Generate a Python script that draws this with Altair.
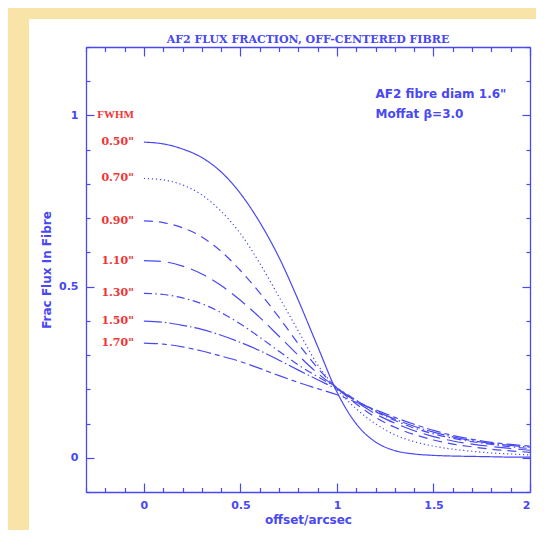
import altair as alt
import pandas as pd

BLUE = "#4848f4"
RED = "#f03434"
BEIGE = "#f8e4a6"

offsets = [0.0, 0.1, 0.2, 0.3, 0.4, 0.5, 0.6, 0.7, 0.8, 0.9, 1.0,
           1.1, 1.2, 1.3, 1.4, 1.5, 1.6, 1.7, 1.8, 1.9, 2.0]
fwhm_names = ['0.50"', '0.70"', '0.90"', '1.10"', '1.30"', '1.50"', '1.70"']

frac_050 = [0.922, 0.917, 0.902, 0.877, 0.835, 0.772, 0.688, 0.585, 0.460, 0.325, 0.192,
            0.099, 0.046, 0.021, 0.011, 0.007, 0.005, 0.004, 0.003, 0.002, 0.002]
frac_070 = [0.816, 0.812, 0.797, 0.768, 0.720, 0.655, 0.568, 0.470, 0.370, 0.272, 0.200,
            0.143, 0.099, 0.067, 0.047, 0.034, 0.025, 0.019, 0.014, 0.011, 0.008]
frac_090 = [0.692, 0.687, 0.672, 0.645, 0.603, 0.547, 0.482, 0.410, 0.333, 0.262, 0.204,
            0.157, 0.118, 0.089, 0.068, 0.052, 0.040, 0.032, 0.025, 0.020, 0.016]
frac_110 = [0.576, 0.573, 0.560, 0.537, 0.503, 0.460, 0.410, 0.355, 0.299, 0.247, 0.204,
            0.164, 0.128, 0.101, 0.079, 0.062, 0.049, 0.040, 0.033, 0.027, 0.022]
frac_130 = [0.480, 0.477, 0.467, 0.450, 0.424, 0.391, 0.352, 0.311, 0.271, 0.237, 0.204,
            0.168, 0.135, 0.109, 0.087, 0.070, 0.057, 0.047, 0.039, 0.032, 0.027]
frac_150 = [0.399, 0.396, 0.387, 0.375, 0.358, 0.337, 0.313, 0.285, 0.256, 0.228, 0.200,
            0.167, 0.137, 0.113, 0.092, 0.075, 0.061, 0.050, 0.042, 0.036, 0.031]
frac_170 = [0.335, 0.332, 0.324, 0.312, 0.297, 0.281, 0.261, 0.240, 0.220, 0.202, 0.184,
            0.162, 0.140, 0.118, 0.098, 0.080, 0.065, 0.054, 0.045, 0.039, 0.034]

all_series = [frac_050, frac_070, frac_090, frac_110, frac_130, frac_150, frac_170]
dash_styles = [[1, 0], [1.2, 2.8], [9, 6], [17, 7], [8, 3.5, 1.5, 3.5],
               [18, 3, 1.5, 3], [14, 4, 5, 4]]

x_ticks = [-0.3, -0.2, -0.1, 0.0, 0.1, 0.2, 0.3, 0.4, 0.5, 0.6, 0.7, 0.8, 0.9,
           1.0, 1.1, 1.2, 1.3, 1.4, 1.5, 1.6, 1.7, 1.8, 1.9, 2.0]
y_ticks = [-0.1, 0.0, 0.1, 0.2, 0.3, 0.4, 0.5, 0.6, 0.7, 0.8, 0.9, 1.0, 1.1, 1.2]
x_labels = [0, 0.5, 1, 1.5, 2]
y_labels = [0, 0.5, 1]
title_text = "AF2 FLUX FRACTION, OFF-CENTERED FIBRE"

rows = []
for name, series in zip(fwhm_names, all_series):
    for xv, yv in zip(offsets, series):
        rows.append({"offset": xv, "frac": yv, "fwhm": name})
df = pd.DataFrame(rows)
start = pd.DataFrame({"offset": [offsets[0]] * len(fwhm_names),
                      "frac": [s[0] for s in all_series],
                      "fwhm": fwhm_names})

W, H = 444, 445
xscale = alt.Scale(domain=[-0.3, 2.0], nice=False, zero=False)
yscale = alt.Scale(domain=[-0.1, 1.2], nice=False, zero=False)
SANS = "DejaVu Sans"
SERIF = "DejaVu Serif"
MAJOR_TEST = "abs(datum.value * 2 - round(datum.value * 2)) < 0.01"


def tick_axis(orient, offset, values, major, minor):
    return alt.Axis(orient=orient, offset=offset, values=values, labels=False,
                    title=None, grid=False, domain=True, domainColor=BLUE,
                    domainWidth=1.3, ticks=True, tickColor=BLUE, tickWidth=1.2,
                    tickSize={"condition": {"test": MAJOR_TEST, "value": major},
                              "value": minor},
                    zindex=2)


white = alt.Chart(alt.Data(values=[{"a": 1}])).mark_rect(color="white").encode(
    x=alt.value(-57), x2=alt.value(450), y=alt.value(-28), y2=alt.value(483)
)

ghost1 = alt.Chart(start).mark_point(opacity=0).encode(
    x=alt.X("offset:Q", scale=xscale, axis=tick_axis("top", -H, x_ticks, 9, 4.5)),
    y=alt.Y("frac:Q", scale=yscale, axis=tick_axis("right", -W, y_ticks, 8, 4)),
)
ghost2 = alt.Chart(start).mark_point(opacity=0).encode(
    x=alt.X("offset:Q", scale=xscale, axis=tick_axis("bottom", -H, x_ticks, 9, 4.5)),
    y=alt.Y("frac:Q", scale=yscale, axis=tick_axis("left", -W, y_ticks, 8, 4)),
)

curves = alt.Chart(df).mark_line(interpolate="monotone", strokeWidth=1.2, color=BLUE).encode(
    x=alt.X("offset:Q", scale=xscale,
            axis=alt.Axis(orient="bottom", values=x_labels, format="~g", domain=False,
                          ticks=False, tickSize=0, grid=False, labelPadding=7,
                          labelFont=SANS, labelFontWeight="bold", labelFontSize=11,
                          labelColor=BLUE, title="offset/arcsec", titleFont=SANS,
                          titleFontWeight="bold", titleFontSize=12, titleColor=BLUE,
                          titlePadding=4, zindex=2)),
    y=alt.Y("frac:Q", scale=yscale,
            axis=alt.Axis(orient="left", values=y_labels, format="~g", domain=False,
                          ticks=False, tickSize=0, grid=False, labelPadding=8,
                          labelFont=SANS, labelFontWeight="bold", labelFontSize=11,
                          labelColor=BLUE, title="Frac Flux In Fibre", titleFont=SANS,
                          titleFontWeight="bold", titleFontSize=12, titleColor=BLUE,
                          titlePadding=5, zindex=2)),
    detail="fwhm:N",
    strokeDash=alt.StrokeDash("fwhm:N", scale=alt.Scale(domain=fwhm_names, range=dash_styles),
                              legend=None),
)

labels = alt.Chart(start).mark_text(align="right", baseline="middle", dx=-10, font=SERIF,
                                    fontWeight="bold", fontSize=11, color=RED).encode(
    x=alt.X("offset:Q", scale=xscale, axis=None),
    y=alt.Y("frac:Q", scale=yscale, axis=None),
    text="fwhm:N",
)

header = alt.Chart(alt.Data(values=[{"t": "FWHM"}])).mark_text(
    align="right", baseline="middle", dx=-10, font="Liberation Serif", fontWeight="bold",
    fontSize=11, color=RED).encode(
    x=alt.XDatum(0, scale=xscale, axis=None),
    y=alt.YDatum(1, scale=yscale, axis=None),
    text="t:N",
)

notes = alt.Chart(alt.Data(values=[{"t": 'AF2 fibre diam 1.6"', "k": 1.063},
                                   {"t": "Moffat \u03b2=3.0", "k": 1.005}])).mark_text(
    align="left", baseline="middle", font=SANS, fontWeight="bold", fontSize=12,
    color=BLUE).encode(
    x=alt.XDatum(1.2, scale=xscale, axis=None),
    y=alt.Y("k:Q", scale=yscale, axis=None),
    text="t:N",
)

title = alt.Chart(alt.Data(values=[{"t": title_text}])).mark_text(
    align="center", baseline="alphabetic", font=SERIF, fontWeight="bold", fontSize=11,
    color=BLUE).encode(
    x=alt.value(W / 2), y=alt.value(-4), text="t:N"
)

chart = alt.layer(white, ghost1, ghost2, curves, labels, header, notes, title).resolve_axis(
    x="independent", y="independent"
).properties(
    width=W, height=H,
    padding={"left": 78, "top": 39, "right": 6, "bottom": 38},
    autosize=alt.AutoSizeParams(type="none"),
).configure(background=BEIGE).configure_view(strokeWidth=0)

chart.save("out.html", embed_options={"renderer": "svg", "actions": False})
